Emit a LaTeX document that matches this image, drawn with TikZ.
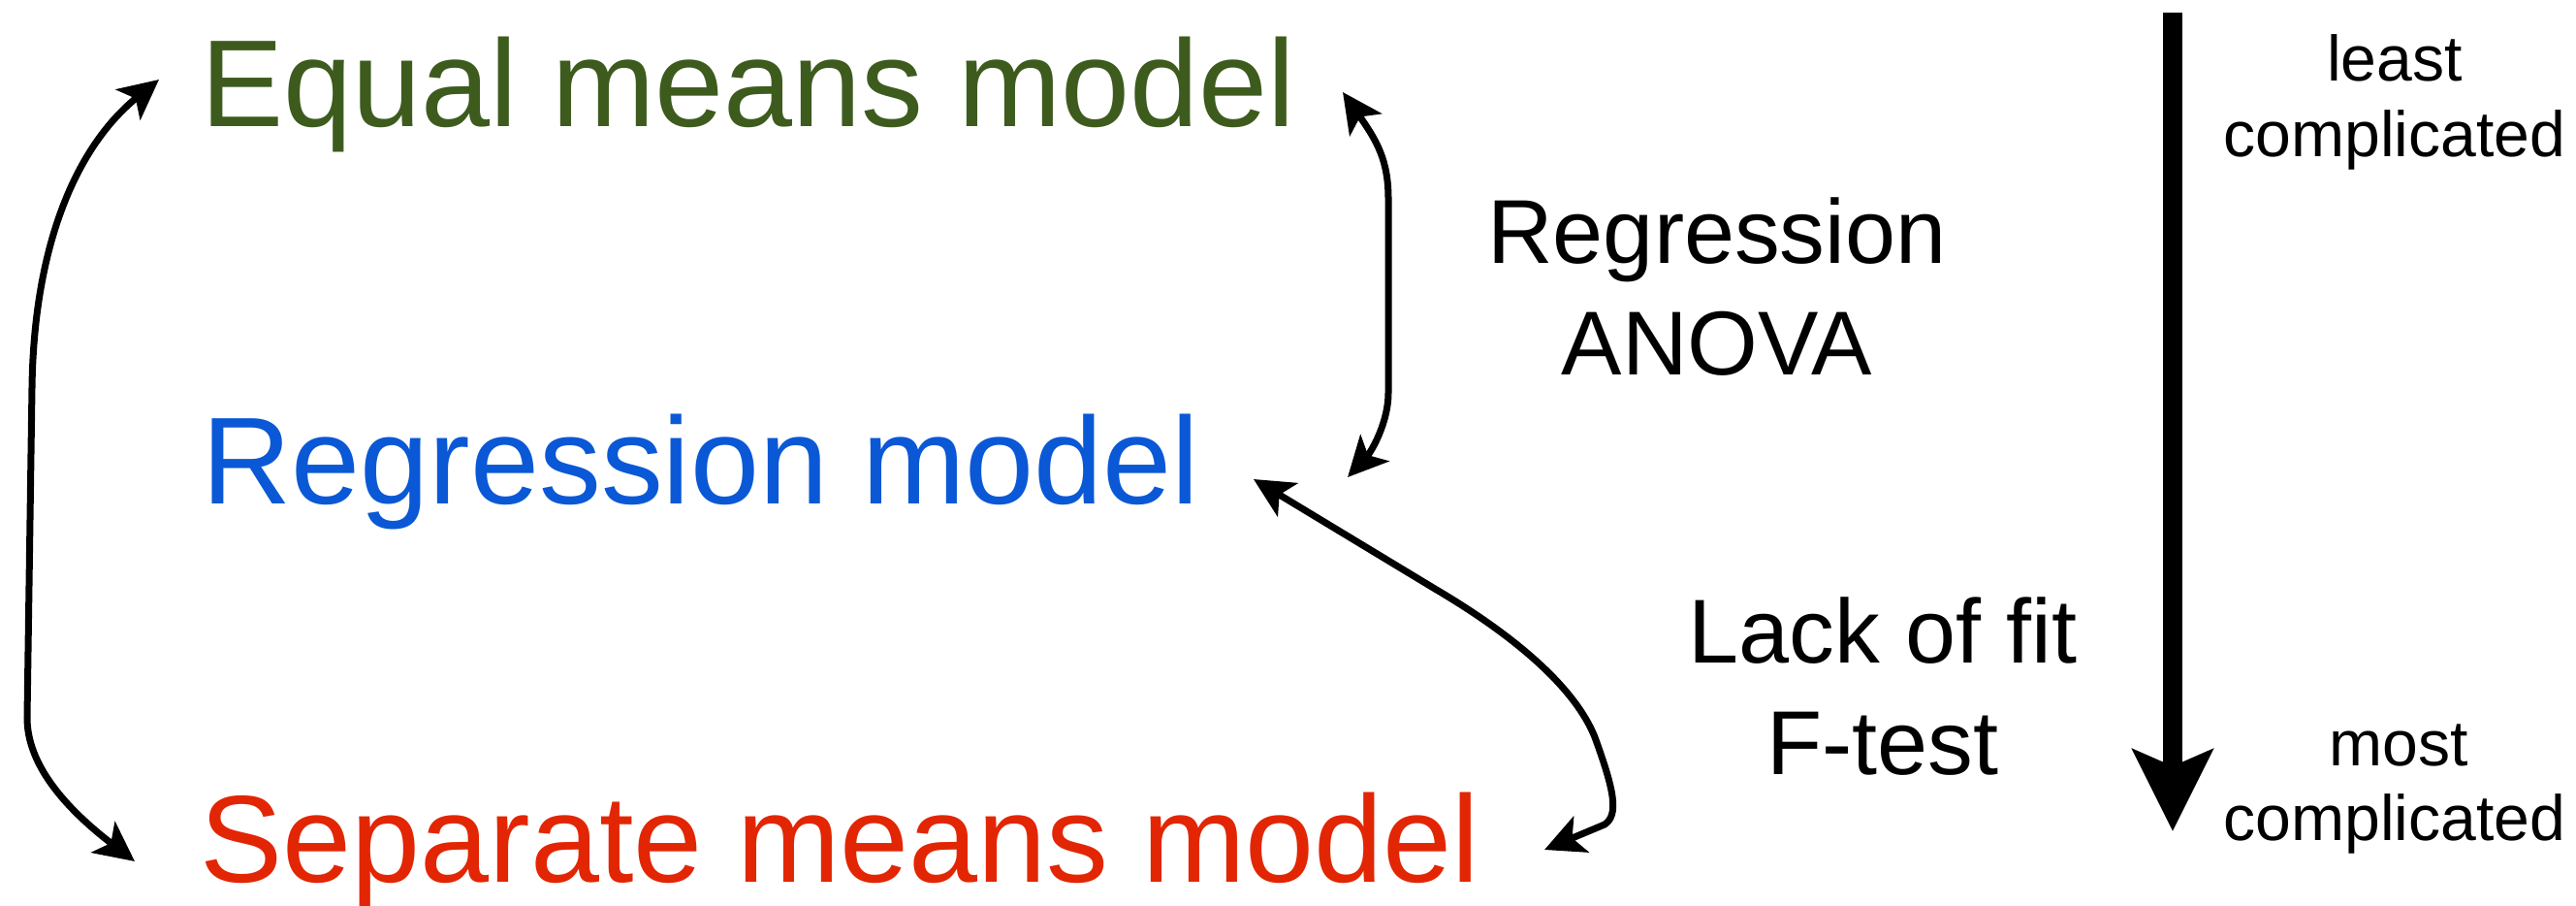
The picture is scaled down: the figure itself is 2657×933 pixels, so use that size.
\documentclass[tikz,border=0pt]{standalone}
\usepackage{fontspec}
\setmainfont{Liberation Sans}
\usetikzlibrary{arrows.meta}
\definecolor{eqgreen}{RGB}{62,91,30}
\definecolor{regblue}{RGB}{10,88,214}
\definecolor{sepred}{RGB}{226,38,4}
\tikzset{
  model/.style={anchor=base west, inner sep=0pt, font=\fontsize{36.3}{43}\selectfont},
  testlabel/.style={anchor=base, inner sep=0pt, font=\fontsize{26.6}{32}\selectfont},
  scalelabel/.style={anchor=base, inner sep=0pt, font=\fontsize{18.8}{22}\selectfont},
  tipA/.tip={Stealth[length=0.41cm,width=0.4cm,inset=0.1cm]},
  link/.style={line width=0.07cm, tipA-tipA},
  bigarrow/.style={line width=0.2cm, -{Stealth[length=0.84cm,width=0.82cm,inset=0.17cm]}}
}
\begin{document}
\begin{tikzpicture}[x=0.01cm,y=-0.01cm]
\useasboundingbox (0,0) rectangle (2657,933);
% model texts
\node[model, text=eqgreen] (eq) at (207,130) {Equal means model};
\node[model, text=regblue] (reg) at (208,519) {Regression model};
\node[model, text=sepred] (sep) at (206,909) {Separate means model};
% test labels
\node[testlabel] (r1) at (1771,271) {Regression};
\node[testlabel] (r2) at (1771,386) {ANOVA};
\node[testlabel] (l1) at (1942,683) {Lack of fit};
\node[testlabel] (l2) at (1942,798) {F-test};
% scale labels
\node[scalelabel] (s1) at (2470,83) {least};
\node[scalelabel] (s2) at (2470,161) {complicated};
\node[scalelabel] (s3) at (2474,789) {most};
\node[scalelabel] (s4) at (2470,866) {complicated};
% connector ends
\coordinate (eqL) at (164,82);
\coordinate (sepL) at (139,888);
\coordinate (eqR) at (1385,95);
\coordinate (regR) at (1390,492);
\coordinate (regR2) at (1293,494);
\coordinate (sepR) at (1593,876);
\coordinate (top) at (2241,13);
\coordinate (bot) at (2241,857);
% connectors
\draw[link] (eqL) .. controls (80,150) and (35,250) .. (33,400) -- (28,740)
  .. controls (28,790) and (70,835) .. (sepL);
\draw[link] (eqR) .. controls (1420,145) and (1432,165) .. (1432,205) -- (1432,405)
  .. controls (1432,435) and (1415,465) .. (regR);
\draw[link] (regR2) -- (1480,607) .. controls (1565,657) and (1625,710) .. (1645,760)
  .. controls (1665,815) and (1670,840) .. (1655,850) -- (sepR);
\draw[bigarrow] (top) -- (bot);
\end{tikzpicture}
\end{document}
